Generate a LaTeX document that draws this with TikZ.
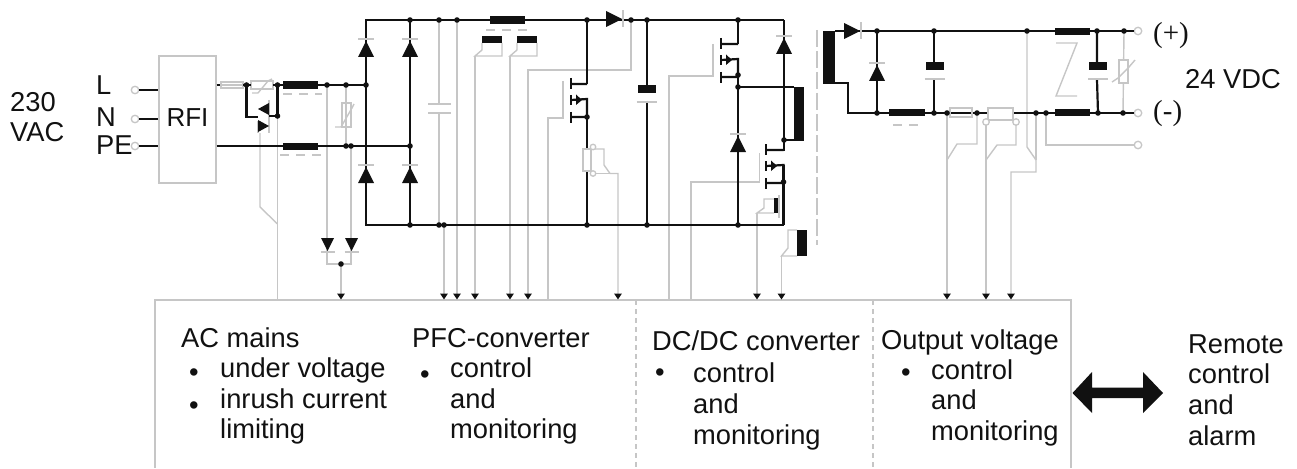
\documentclass[tikz,border=0pt]{standalone}
\usepackage{fontspec}
\setmainfont{Liberation Sans}
\newfontfamily\serifface{Liberation Serif}
\usetikzlibrary{arrows.meta}
\definecolor{gy}{HTML}{C6C6C6}
\definecolor{ink}{HTML}{111111}
\tikzset{
  wire/.style={draw=ink,line width=2.2pt,line join=miter},
  sig/.style={draw=gy,line width=1.4pt,line join=miter},
  tosig/.style={sig,-{Triangle[color=ink,length=6pt,width=7.5pt]}},
  longdash/.style={sig,dash pattern=on 9pt off 7pt},
  term/.style={circle,draw=gy,line width=1.3pt,fill=white,minimum size=7.5pt,inner sep=0pt},
  lbl/.style={anchor=base west,inner sep=0pt,font=\fontsize{27.3}{30.5}\selectfont,text=ink},
  srf/.style={anchor=base west,inner sep=0pt,font=\fontsize{29}{32}\serifface,text=ink},
  blk/.style={fill=ink,draw=none},
  tri/.style={fill=ink,draw=none},
}
\newcommand\blockat[4]{\fill[blk] (#1,#2) rectangle (#3,#4);}
% diode pointing up: x, apex y
\newcommand\diodeup[2]{\fill[tri] (#1,#2) -- (#1+8,#2+16) -- (#1-8,#2+16) -- cycle;
  \draw[sig] (#1-8,#2-2) -- (#1+8,#2-2);}
% diode pointing down: x, base y
\newcommand\diodedn[2]{\fill[tri] (#1-6.5,#2) -- (#1+6.5,#2) -- (#1,#2+13) -- cycle;
  \draw[sig] (#1-7,#2+14) -- (#1+7,#2+14);}
% diode pointing right: base x, centre y
\newcommand\dioderi[2]{\fill[tri] (#1,#2-8) -- (#1+16,#2) -- (#1,#2+8) -- cycle;
  \draw[sig] (#1+17,#2-8.5) -- (#1+17,#2+8.5);}
% mosfet: bar x, drain y, right x
\newcommand\fetsym[3]{
  \draw[wire] (#1,#2-6) -- (#1,#2+5) (#1,#2+11) -- (#1,#2+21) (#1,#2+28) -- (#1,#2+39);
  \draw[wire] (#1,#2) -- (#3,#2) (#1,#2+16) -- (#3,#2+15) -- (#3,#2+33) -- (#1,#2+33);
  \fill[tri] (#1+5,#2+10.5) -- (#1+11,#2+16) -- (#1+5,#2+21) -- cycle;
}
% cap: x, block top y
\newcommand\capsym[2]{
  \fill[blk] (#1-9,#2) rectangle (#1+9,#2+8);
  \draw[sig] (#1-10,#2+17) -- (#1+10,#2+17);
}
\begin{document}
\begin{tikzpicture}[x=1pt,y=-1pt]
\useasboundingbox (0,0) rectangle (1297,468);

% named junctions
\foreach \n/\x/\y in {
  jA/246.5/85, jB/277.5/85, jC/327/85, jD/346/85, jE/366/85, jF/277.5/116,
  kA/346/146, kB/351/146, kC/410/146,
  tA/366/20, tB/410/20, tC/439/20, tD/457/20, tE/587/20, tF/631/20, tG/647/20, tH/738/20, tI/784/20,
  bA/366/225, bB/410/225, bC/439/225, bD/444/225, bE/587/225, bF/647/225, bG/738/225, bH/783.5/225,
  mA/587/117, mB/738/75, mC/738/87, mD/784/140, mE/783.5/182,
  sA/877/31, sB/934/31, sC/1027/31, sD/1097/31, sE/1124/31,
  uA/877/113, uB/934/113, uC/947/113, uD/977/113, uE/1036/113, uF/1046/113, uG/1098/113, uH/1123/113,
  vA/341/264}
  {\coordinate (\n) at (\x,\y);}
\coordinate (top) at (0,299.5);

% boxes and terminals
\node[draw=gy,line width=1.4pt,minimum width=57pt,minimum height=127pt,inner sep=0pt,font=\fontsize{26}{30}\selectfont,text=ink] (rfi) at (187.5,119.5) {\raisebox{3pt}{RFI}};
\node[term] (tL) at (135,90) {};
\node[term] (tN) at (135,119) {};
\node[term] (tP) at (135,146) {};
\node[term] (oP) at (1138,31) {};
\node[term] (oM) at (1138,113) {};
\node[term] (oS) at (1138,145) {};
\draw[sig] (155,468) -- (155,300) -- (1071,300) -- (1071,468);
\draw[sig,line width=1.1pt,dash pattern=on 5pt off 4pt] (636,300) -- (636,468) (873,300) -- (873,468);

% grey signal lines with arrows to the control box
\draw[tosig] (vA) -- (vA |- top);
\draw[tosig] (bD) -- (bD |- top);
\draw[tosig] (tD) -- (tD |- top);
\draw[sig] (482,43) -- (482,50) -- (475,56) -- (502,56) -- (502,43);
\draw[tosig] (475,56) -- (475,299.5);
\draw[sig] (517,43) -- (517,50) -- (510,56) -- (537,56) -- (537,43);
\draw[tosig] (510,56) -- (510,299.5);
\draw[tosig] (tF) -- (631,70) -- (528,70) -- (528,299.5);
\draw[tosig] (593,149) -- (604,149) -- (604,165) -- (610,173.5) -- (618,173.5) -- (618,299.5);
\draw[sig] (593,173.5) -- (610,173.5);
\draw[sig] (774,199) -- (764,199) -- (764,208) -- (757,213) -- (774,213);
\draw[tosig] (757,213) -- (757,299.5);
\draw[sig] (797,230) -- (788,230) -- (788,248) -- (781.5,256) -- (797,256);
\draw[tosig] (781.5,256) -- (781.5,299.5);
\draw[tosig] (uC) -- (uC |- top);
\draw[sig] (uD) -- (977,144) -- (957,144) -- (947,160);
\draw[tosig] (986,122) -- (986,299.5);
\draw[sig] (1016,122) -- (1016,145) -- (997,145) -- (986,160);
\draw[tosig] (sC) -- (1027,147) -- (1036,160) -- (1036,172) -- (1011,172) -- (1011,299.5);
\draw[sig] (uE) -- (1036,160);
\draw[sig] (uF) -- (1046,145) -- (oS);

% grey lines without arrows
\draw[sig] (jF) -- (jF |- top);
\draw[sig] (260,133) -- (260,207) -- (277.5,224);
\draw[sig] (jC) -- (327,252) (kB) -- (351,252);
\draw[sig] (327,252) -- (327,264) -- (351,264) -- (351,252);
\draw[sig] (jD) -- (kA);
\draw[sig] (342,103) rectangle (351,127);
\draw[sig] (335,127) -- (341,127) -- (352,108) -- (354,104);
\draw[sig] (tC) -- (439,104) (439,113) -- (bC);
\draw[sig] (428,104) -- (451,104) (428,113) -- (451,113);
\draw[sig] (563,81) -- (563,118) -- (548,118) -- (548,300);
\draw[sig] (713,44) -- (713,76) -- (669,76) -- (669,300);
\draw[sig] (759.5,153) -- (759.5,182) -- (691,182) -- (691,300);
\draw[sig] (779,195) -- (779,218);
\draw[sig,dash pattern=on 17pt off 4pt] (817,30) -- (817,245);
\draw[longdash] (486,30) -- (530,30);
\draw[longdash] (283,94) -- (322,94);
\draw[longdash] (280,155) -- (324,155);
\draw[longdash] (893,125) -- (922,125);
\draw[sig] (1056,43) -- (1077,43) -- (1056,96) -- (1077,96);
\draw[sig] (sE) -- (uH);
\draw[sig,fill=white] (1119,60) rectangle (1128,83);
\draw[sig] (1112,82) -- (1118,78) -- (1129,67) -- (1135,60);

% fuse, NTC
\draw[wire] (rfi.east |- jA) -- (221,85);
\draw[sig] (221,82) rectangle (243,88) (221,85) -- (243,85);
\draw[sig] (251,81) rectangle (273,89);
\draw[sig] (252,93) -- (258,93) -- (268,81) -- (272,79);
% triac
\draw[sig] (258,121) -- (258,133) (269,100) -- (269,133);
\fill[tri] (258,109) -- (269,103) -- (269,115) -- cycle;
\fill[tri] (258,120) -- (269,126) -- (258,132) -- cycle;

% black wiring
\draw[wire] (tL) -- (tL -| rfi.west);
\draw[wire] (tN) -- (tN -| rfi.west);
\draw[wire] (tP) -- (tP -| rfi.west);
\draw[wire] (243,85) -- (251,85) (273,85) -- (jE);
\draw[wire] (jA) -- (246.5,117) -- (258,117);
\draw[wire] (jB) -- (jF) -- (269,116);
\draw[wire] (rfi.east |- kA) -- (kC);
\draw[wire,line width=2.6pt,line cap=square] (tI) -- (tA) -- (bA) -- (bH);
\draw[wire,line width=2.6pt] (tB) -- (bB);
\draw[wire] (tE) -- (587,84);
\fetsym{571}{84}{587}
\draw[wire] (mA) -- (587,149) (587,171) -- (bE);
\draw[wire] (tG) -- (647,85) (647,101) -- (bF);
\fetsym{721}{44}{738}
\draw[wire] (tH) -- (738,44) (mB) -- (bG);
\draw[wire] (mC) -- (794,87);
\draw[wire] (tI) -- (784,150) -- (766,150);
\draw[wire] (mD) -- (804,140);
\fetsym{766}{150}{783.5}
\draw[wire] (783.5,165) -- (bH);
\draw[wire] (835,31) -- (oP);
\draw[wire] (835,83) -- (848,83) -- (848,113) -- (988,113);
\draw[wire] (1013,113) -- (oM);
\draw[wire] (sA) -- (uA);
\draw[wire] (sB) -- (934,62) (934,80) -- (uB);
\draw[wire] (sD) -- (1097,62) (1097,80) -- (uG);

% shunts on top of wiring
\draw[sig] (583,149) rectangle (591,171);
\node[term,minimum size=5.5pt] (sh1) at (593,147) {};
\node[term,minimum size=5.5pt] (sh2) at (593,173.5) {};
\draw[sig] (950,108) rectangle (972,117);
\draw[sig,fill=white] (988,108) rectangle (1013,120);
\node[term,minimum size=6.5pt] (sh3) at (986,122) {};
\node[term,minimum size=6.5pt] (sh4) at (1016,122) {};

% solid blocks
\blockat{283}{81.5}{318}{89}
\blockat{283}{142.5}{318}{150}
\blockat{490}{16.5}{525}{24}
\blockat{482}{36}{502}{43}
\blockat{517}{36}{537}{43}
\blockat{794}{87}{804}{140}
\blockat{774}{198}{778}{213}
\blockat{797}{230}{807}{256}
\blockat{823}{31}{835}{84}
\blockat{889}{109}{925}{116}
\blockat{1055}{28}{1090}{35}
\blockat{1055}{109}{1090}{116.5}
\capsym{646.5}{85}
\capsym{934.5}{62}
\capsym{1098}{62}

% diodes
\diodeup{366}{41}
\diodeup{410}{41}
\diodeup{366}{167}
\diodeup{410}{167}
\diodeup{738}{136}
\diodeup{784}{38}
\diodeup{877}{65}
\dioderi{606}{19}
\dioderi{844}{31}
\diodedn{327.5}{238}
\diodedn{351.5}{238}

% dots
\foreach \n in {jA,jB,jC,jD,jE,jF,kA,kB,kC,tB,tC,tD,tE,tF,tG,tH,bB,bC,bD,bE,bF,bG,mA,mB,mC,mD,mE,sA,sB,sC,sD,sE,uA,uB,uC,uD,uE,uF,uG,uH,vA}
  {\fill[ink] (\n) circle (2.8pt);}

% big double arrow
\fill[ink] (1072.5,393) -- (1092,372) -- (1092,387.5) -- (1143,387.5) -- (1143,372) -- (1163,393) -- (1143,413) -- (1143,398) -- (1092,398) -- (1092,413) -- cycle;

% texts
\node[lbl] (t230) at (10,111) {230};
\node[lbl] (tVAC) at (10,141) {VAC};
\node[lbl] (tLl) at (96,95) {L};
\node[lbl] (tNl) at (96,127) {N};
\node[lbl] (tPl) at (96,154) {PE};
\node[srf] (tplus) at (1153,43) {(+)};
\node[srf] (tminus) at (1153,121) {(-)};
\node[lbl] (t24) at (1185,89) {24 VDC};

\node[lbl] (h1) at (181,347) {AC mains};
\node[lbl] (b1) at (189,381) {•};
\node[lbl] (h1a) at (220,377) {under voltage};
\node[lbl] (b2) at (189,414) {•};
\node[lbl] (h1b) at (220,408) {inrush current};
\node[lbl] (h1c) at (220,438) {limiting};

\node[lbl] (h2) at (412,347) {PFC-converter};
\node[lbl] (b3) at (420,383) {•};
\node[lbl] (h2a) at (450,377) {control};
\node[lbl] (h2b) at (450,408) {and};
\node[lbl] (h2c) at (450,438) {monitoring};

\node[lbl] (h3) at (652,350) {DC/DC converter};
\node[lbl] (b4) at (655,381) {•};
\node[lbl] (h3a) at (693,382) {control};
\node[lbl] (h3b) at (693,413) {and};
\node[lbl] (h3c) at (693,444) {monitoring};

\node[lbl] (h4) at (881,349) {Output voltage};
\node[lbl] (b5) at (901,381) {•};
\node[lbl] (h4a) at (931,379) {control};
\node[lbl] (h4b) at (931,409) {and};
\node[lbl] (h4c) at (931,440) {monitoring};

\node[lbl] (r1) at (1188,353) {Remote};
\node[lbl] (r2) at (1188,383) {control};
\node[lbl] (r3) at (1188,414) {and};
\node[lbl] (r4) at (1188,445) {alarm};
\end{tikzpicture}
\end{document}
